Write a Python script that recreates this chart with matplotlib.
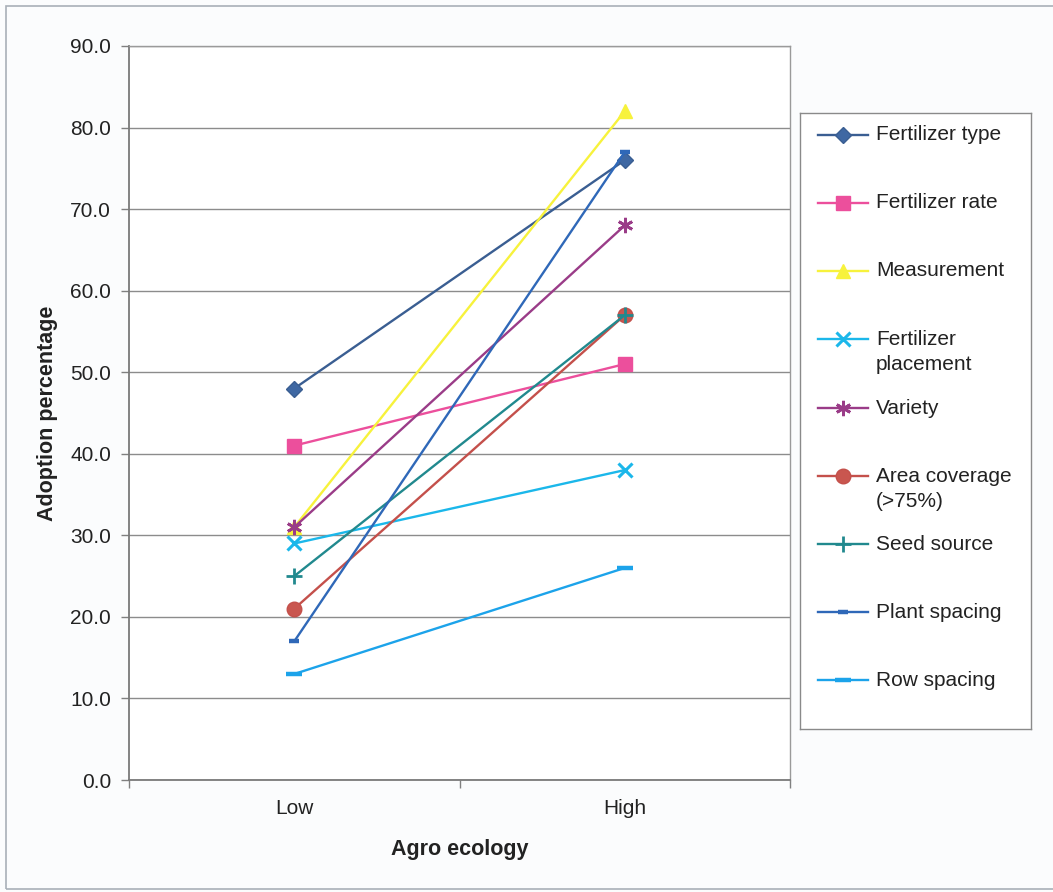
import matplotlib
matplotlib.use("Agg")
import matplotlib.pyplot as plt
from matplotlib.lines import Line2D
from matplotlib.patches import Rectangle

plt.rcParams['font.family'] = ['Liberation Sans', 'DejaVu Sans']

# Agro-ecology categories and adoption percentage per practice
categories = ["Low", "High"]
fertilizer_type = [48.0, 76.0]
fertilizer_rate = [41.0, 51.0]
measurement = [31.0, 82.0]
fertilizer_placement = [29.0, 38.0]
variety = [31.0, 68.0]
area_coverage = [21.0, 57.0]
seed_source = [25.0, 57.0]
plant_spacing = [17.0, 77.0]
row_spacing = [13.0, 26.0]

series_labels = ["Fertilizer type", "Fertilizer rate", "Measurement",
                 "Fertilizer\nplacement", "Variety", "Area coverage\n(>75%)",
                 "Seed source", "Plant spacing", "Row spacing"]
y_ticks = [0, 10, 20, 30, 40, 50, 60, 70, 80, 90]

series = [fertilizer_type, fertilizer_rate, measurement, fertilizer_placement,
          variety, area_coverage, seed_source, plant_spacing, row_spacing]

styles = [
    dict(color='#3A5E92', marker='D', ms=8.5, mew=1, mfc='#3F68A3'),
    dict(color='#EC4F9C', marker='s', ms=9.5, mew=1, mfc='#EC4F9C'),
    dict(color='#F7F23C', marker='^', ms=10, mew=1, mfc='#F7F23C'),
    dict(color='#1BB7EA', marker='x', ms=10, mew=2.2, mfc='none'),
    dict(color='#9A3C88', marker=(6, 2, 0), ms=11, mew=2.0, mfc='none'),
    dict(color='#C4504B', marker='o', ms=10.5, mew=1, mfc='#C9564F'),
    dict(color='#21898E', marker='+', ms=11, mew=2.0, mfc='none'),
    dict(color='#2F68B8', marker='_', ms=7, mew=3.2, mfc='none'),
    dict(color='#1CA3EA', marker='_', ms=11, mew=3.2, mfc='none'),
]

FS = 15
W, H = 1053, 892
fig = plt.figure(figsize=(W / 100, H / 100), dpi=100, facecolor='#FBFCFD')

# page frame
fig.add_artist(Rectangle((6 / W, 3 / H), 1.2, 1 - 9 / H, transform=fig.transFigure,
                         fill=False, edgecolor='#A9B0B8', lw=1.2))

ax = fig.add_axes([129 / W, 1 - 780 / H, (790 - 129) / W, (780 - 46) / H])
ax.set_facecolor('white')

xpos = list(range(len(categories)))
for vals, st, lab in zip(series, styles, series_labels):
    ax.plot(xpos, vals, color=st['color'], lw=1.7, marker=st['marker'],
            markersize=st['ms'], markeredgewidth=st['mew'],
            markerfacecolor=st['mfc'], markeredgecolor=st['color'],
            label=lab, zorder=3)

ax.set_xlim(-0.5, len(categories) - 0.5)
ax.set_ylim(0, 90)
ax.set_yticks(y_ticks)
ax.set_yticklabels([f"{v:.1f}" for v in y_ticks])
ax.set_xticks(xpos)
ax.set_xticklabels(categories)
ax.set_xticks([i - 0.5 for i in range(len(categories) + 1)], minor=True)
ax.tick_params(axis='x', which='major', length=0, pad=14, labelsize=FS, colors='#222222')
ax.tick_params(axis='x', which='minor', length=6, color='#808080', width=1)
ax.tick_params(axis='y', length=6, color='#808080', width=1, pad=7,
               labelsize=FS, labelcolor='#222222')

ax.grid(axis='y', color='#8C8C8C', lw=1.0)
ax.set_axisbelow(True)
for side in ['left', 'bottom']:
    ax.spines[side].set_color('#7A7A7A')
    ax.spines[side].set_linewidth(1.3)
for side in ['top', 'right']:
    ax.spines[side].set_color('#9A9A9A')
    ax.spines[side].set_linewidth(1.0)

fig.text(460 / W, 1 - 849 / H, "Agro ecology", ha='center', va='center',
         fontsize=15.5, fontweight='bold', color='#222222')
fig.text(48 / W, 1 - 413 / H, "Adoption percentage", ha='center', va='center',
         rotation=90, fontsize=15.5, fontweight='bold', color='#222222')

# legend panel
lax = fig.add_axes([800 / W, 1 - 729 / H, (1031 - 800) / W, (729 - 113) / H])
lax.set_xlim(800, 1031)
lax.set_ylim(729, 113)
lax.set_xticks([])
lax.set_yticks([])
for sp in lax.spines.values():
    sp.set_color('#8A8A8A')
    sp.set_linewidth(1.0)

rows = [135, 203, 271, 339, 408, 476, 544, 612, 680]
for y, st, lab in zip(rows, styles, series_labels):
    lax.add_line(Line2D([818, 843, 868], [y, y, y], color=st['color'], lw=1.7,
                        marker=st['marker'], markevery=[1],
                        markersize=st['ms'], markeredgewidth=st['mew'],
                        markerfacecolor=st['mfc'], markeredgecolor=st['color']))
    if '\n' in lab:
        lax.text(876, y - 9, lab, ha='left', va='top', fontsize=FS,
                 color='#222222', linespacing=1.42)
    else:
        lax.text(876, y, lab, ha='left', va='center', fontsize=FS, color='#222222')

fig.savefig("out.png", dpi=100, facecolor=fig.get_facecolor())
